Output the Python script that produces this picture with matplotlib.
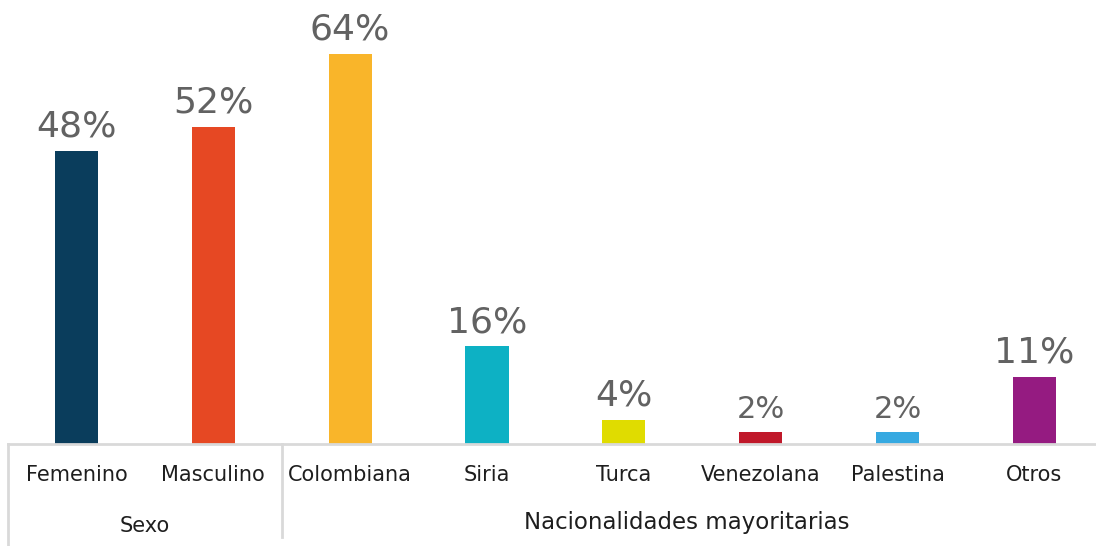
import matplotlib
matplotlib.use('Agg')
import matplotlib.pyplot as plt

categories = ['Femenino', 'Masculino', 'Colombiana', 'Siria', 'Turca',
              'Venezolana', 'Palestina', 'Otros']
values = [48, 52, 64, 16, 4, 2, 2, 11]
colors = ['#0a3d5c', '#e64823', '#f9b52a', '#0db1c4', '#e0dc00',
          '#c0182a', '#36a9e1', '#951b81']
groups = ['Sexo', 'Nacionalidades mayoritarias']

plt.rcParams['font.family'] = ['DejaVu Sans']

fig = plt.figure(figsize=(10.96, 5.46), dpi=100)
ax = fig.add_axes([8 / 1096, 102 / 546, 1088 / 1096, 444 / 546])

x = list(range(len(categories)))
bars = ax.bar(x, values, width=0.315, color=colors)

for xi, v in zip(x, values):
    ax.text(xi, v + 1.2, '%d%%' % v, ha='center', va='bottom',
            fontsize=26 if v > 3 else 22, color='#626262')

ax.set_xlim(-0.5, 7.45)
ax.set_ylim(0, 72.8)
ax.set_yticks([])
ax.set_xticks(x)
ax.set_xticklabels(categories, fontsize=15, color='#1e1e1e')
ax.tick_params(axis='x', length=0, pad=15)

for s in ['top', 'right', 'left']:
    ax.spines[s].set_visible(False)
ax.spines['bottom'].set_color('#d9d9d9')
ax.spines['bottom'].set_linewidth(2)

# group separators below the axis
trans = ax.get_xaxis_transform()
ax.plot([-0.5, -0.5], [0, -0.235], color='#d9d9d9', lw=2,
        transform=trans, clip_on=False)
ax.plot([1.5, 1.5], [0, -0.21], color='#d9d9d9', lw=2,
        transform=trans, clip_on=False)

ax.text(0.5, -0.184, groups[0], transform=trans, ha='center', va='center',
        fontsize=15, color='#1e1e1e')
ax.text(4.46, -0.177, groups[1], transform=trans, ha='center', va='center',
        fontsize=16.5, color='#1e1e1e')

fig.savefig('out.png', dpi=100)
